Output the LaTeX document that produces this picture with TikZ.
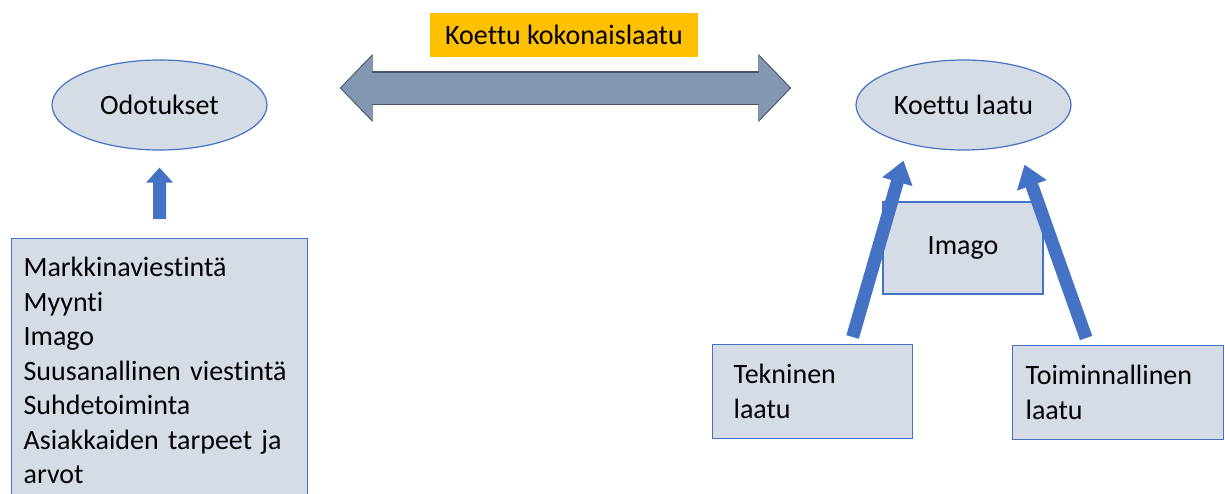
\documentclass[tikz,border=0pt]{standalone}
\usepackage{fontspec}
\setmainfont{Carlito}[Ligatures=NoCommon]
\usepackage{tikz}
\usetikzlibrary{arrows.meta, shapes.geometric, calc}

\definecolor{boxfill}{RGB}{214,220,229}
\definecolor{boxline}{RGB}{68,114,196}
\definecolor{arrowblue}{RGB}{68,114,196}
\definecolor{bigfill}{RGB}{132,151,176}
\definecolor{bigline}{RGB}{68,84,106}
\definecolor{gold}{RGB}{255,192,0}

\begin{document}
\begin{tikzpicture}[x=1pt, y=-1pt, font=\fontsize{28}{34.5}\selectfont,
    oval/.style={ellipse, draw=boxline, fill=boxfill, line width=1.2pt, minimum width=215pt, minimum height=90pt, inner sep=0pt},
    panel/.style={rectangle, draw=boxline, fill=boxfill, line width=1.2pt, align=left},
    fat/.style={arrowblue, line width=13pt, -{Triangle[width=30pt,length=22pt]}}]
    \path[use as bounding box, clip] (0,0) rectangle (1225,493);

    % Top - overall quality
    \node[fill=gold, minimum width=268pt, minimum height=44pt] (total) at (564,35) {Koettu kokonaislaatu};
    \node[oval] (odot) at (159.5,105) {Odotukset};
    \node[oval] (koettu) at (963.5,105) {Koettu laatu};

    \draw[bigline, line width=34pt, {Triangle[width=66pt,length=33pt]}-{Triangle[width=66pt,length=33pt]}]
        ([xshift=72pt,yshift=17pt]odot.east) -- ([xshift=-64pt,yshift=17pt]koettu.west);
    \draw[bigfill, line width=31pt, shorten <=1.5pt, shorten >=1.5pt, {Triangle[width=62pt,length=31pt]}-{Triangle[width=62pt,length=31pt]}]
        ([xshift=72pt,yshift=17pt]odot.east) -- ([xshift=-64pt,yshift=17pt]koettu.west);

    % Left - what shapes expectations
    \node[panel, anchor=north west, text width=272pt, inner xsep=12pt, minimum height=264pt] (mlist) at (11,238) {
        Markkinaviestintä\\Myynti\\Imago\\Suusanallinen viestintä\\Suhdetoiminta\\Asiakkaiden tarpeet ja\\arvot
    };
    \draw[arrowblue, line width=13pt, -{Triangle[width=26pt,length=15pt]}] ([yshift=19pt]mlist.north) -- ([yshift=-17pt]odot.south);

    % Right - parts of experienced quality
    \node[panel, minimum width=160pt, minimum height=92pt, align=center] (imago) at (963,248) {Imago};
    \node[panel, anchor=north west, text width=158pt, inner xsep=21pt, minimum height=94pt] (tekn) at (712,344) {Tekninen\\laatu};
    \node[panel, anchor=north west, text width=185pt, inner xsep=13pt, minimum height=94pt] (toim) at (1012,345) {Toiminnallinen\\laatu};

    \draw[fat] ([xshift=40pt,yshift=7pt]tekn.north) -- ([xshift=-60pt,yshift=-10pt]koettu.south);
    \draw[fat] ([xshift=-32pt,yshift=7pt]toim.north) -- ([xshift=61pt,yshift=-14pt]koettu.south);
\end{tikzpicture}
\end{document}
